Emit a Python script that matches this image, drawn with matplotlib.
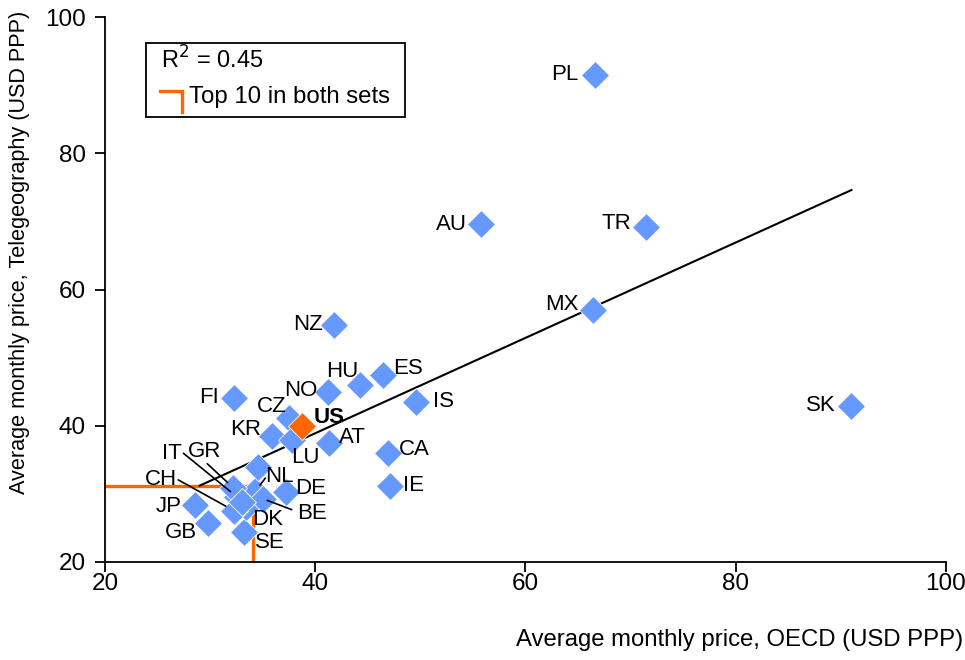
import matplotlib.pyplot as plt
from matplotlib.patches import Rectangle
from matplotlib.lines import Line2D

plt.rcParams["font.family"] = ["Liberation Sans", "DejaVu Sans"]
plt.rcParams["font.size"] = 16

# country codes and average monthly prices (USD PPP)
countries = ["PL", "AU", "TR", "MX", "SK", "NZ", "ES", "HU", "NO", "IS",
             "FI", "CZ", "US", "KR", "LU", "AT", "CA", "IE", "DE", "JP",
             "GB", "SE", "DK", "NL", "BE", "IT", "GR", "CH", "PT", "FR"]
oecd = [66.6, 55.8, 71.5, 66.4, 91.0, 41.8, 46.4, 44.3, 41.2, 49.6,
        32.3, 37.5, 38.7, 35.9, 37.8, 41.3, 46.9, 47.1, 37.2, 28.6,
        29.8, 33.2, 33.4, 34.3, 35.0, 32.6, 32.2, 32.3, 34.6, 33.0]
telegeo = [91.5, 69.6, 69.2, 57.0, 42.9, 54.8, 47.4, 46.0, 44.9, 43.5,
           44.1, 41.1, 40.0, 38.5, 37.9, 37.5, 36.0, 31.2, 30.3, 28.4,
           25.7, 24.4, 28.0, 30.4, 29.3, 29.5, 30.9, 27.5, 33.9, 28.8]
unlabeled = ["PT", "FR"]
highlight = "US"

# linear trend
trend_slope = 0.70
trend_icpt = 10.9
trend_range = [29.0, 91.0]
r_squared = 0.45

# top-10 threshold in both data sets
top10_x = 34.1
top10_y = 31.1

# label placement: (dx, dy) in pixels, horizontal alignment
label_pos = {
    "PL": (-16, 0, "right"), "AU": (-14, 0, "right"), "TR": (-15, 3, "right"),
    "MX": (-14, 5, "right"), "SK": (-16, 0, "right"), "NZ": (-11, 0, "right"),
    "ES": (11, 7, "left"), "HU": (-2, 13, "right"), "NO": (-10, 2, "right"),
    "IS": (17, 0, "left"), "FI": (-15, 0, "right"), "CZ": (-2, 12, "right"),
    "US": (12, 8, "left"), "KR": (-11, 6, "right"), "LU": (-1, -17, "left"),
    "AT": (10, 5, "left"), "CA": (11, 3, "left"), "IE": (13, 0, "left"),
    "DE": (9, 3, "left"), "JP": (-14, -2, "right"), "GB": (-11, -9, "right"),
    "SE": (11, -10, "left"), "DK": (6, -12, "left"), "NL": (10, 15, "left"),
    "BE": (34, -15, "left"), "IT": (-56, 44, "right"), "GR": (-12, 36, "right"),
    "CH": (-57, 31, "right"),
}
# leader lines: start offset in pixels, gap to the marker in points
leaders = {
    "IT": (-54, 44, 6.5), "GR": (-26, 24, 5.5), "CH": (-56, 31, 7),
    "NL": (10, 13, 5.5), "BE": (29, -11, 3.5),
}

blue = "#6699FF"
orange = "#FF6600"


def main():
    fig = plt.figure(figsize=(9.65, 6.6), dpi=100)
    ax = fig.add_axes([0.1088, 0.1485, 0.8715, 0.8257])

    # top-10 corner
    ax.plot([20, top10_x, top10_x], [top10_y, top10_y, 20], color=orange,
            lw=2.4, solid_capstyle="butt", zorder=2)

    # trend line
    tx = trend_range
    ty = [trend_icpt + trend_slope * v for v in tx]
    ax.plot(tx, ty, color="black", lw=1.5, zorder=3)

    for c, x, y in zip(countries, oecd, telegeo):
        col = orange if c == highlight else blue
        ax.plot(x, y, marker="D", ms=14, color=col, mec="white", mew=0.6,
                linestyle="none", zorder=4 if c != highlight else 5)
        if c in unlabeled:
            continue
        dx, dy, ha = label_pos[c]
        ax.annotate(c, (x, y), xytext=(dx, dy), textcoords="offset pixels",
                    ha=ha, va="center", fontsize=16,
                    fontweight="bold" if c == highlight else "normal", zorder=6)
        if c in leaders:
            sx, sy, gap = leaders[c]
            ax.annotate("", (x, y), xytext=(sx, sy), textcoords="offset pixels",
                        arrowprops=dict(arrowstyle="-", color="black", lw=1.2,
                                        shrinkA=0, shrinkB=gap), zorder=6)

    ax.set_xlim(20, 100)
    ax.set_ylim(20, 100)
    ax.set_xticks([20, 40, 60, 80, 100])
    ax.set_yticks([20, 40, 60, 80, 100])
    ax.spines["top"].set_visible(False)
    ax.spines["right"].set_visible(False)
    for s in ["left", "bottom"]:
        ax.spines[s].set_linewidth(1.3)
    ax.tick_params(direction="out", length=7, width=1.3, labelsize=17.5)
    ax.tick_params(axis="x", pad=1)
    ax.tick_params(axis="y", pad=7)
    for lab in ax.get_xticklabels():
        lab.set_clip_on(False)

    # legend box
    ax.add_patch(Rectangle((0.0487, 0.8165), 0.3076, 0.1358, transform=ax.transAxes,
                           fill=True, facecolor="white", edgecolor="black",
                           lw=1.3, zorder=7))
    ax.text(0.0665, 0.921, "R$^2$ = %.2f" % r_squared, transform=ax.transAxes,
            va="center", ha="left", fontsize=17, zorder=8)
    ax.add_line(Line2D([0.0653, 0.0915, 0.0915], [0.8642, 0.8642, 0.8257],
                       transform=ax.transAxes, color=orange, lw=2.4,
                       solid_joinstyle="miter", zorder=8))
    ax.text(0.0998, 0.853, "Top 10 in both sets", transform=ax.transAxes,
            va="center", ha="left", fontsize=17.3, zorder=8)

    fig.text(0.998, 0.03, "Average monthly price, OECD (USD PPP)",
             ha="right", va="center", fontsize=17.2)
    fig.text(0.02, 0.618, "Average monthly price, Telegeography (USD PPP)",
             ha="center", va="center", rotation=90, fontsize=15.6)

    fig.savefig("out.png", dpi=100)


if __name__ == "__main__":
    main()
